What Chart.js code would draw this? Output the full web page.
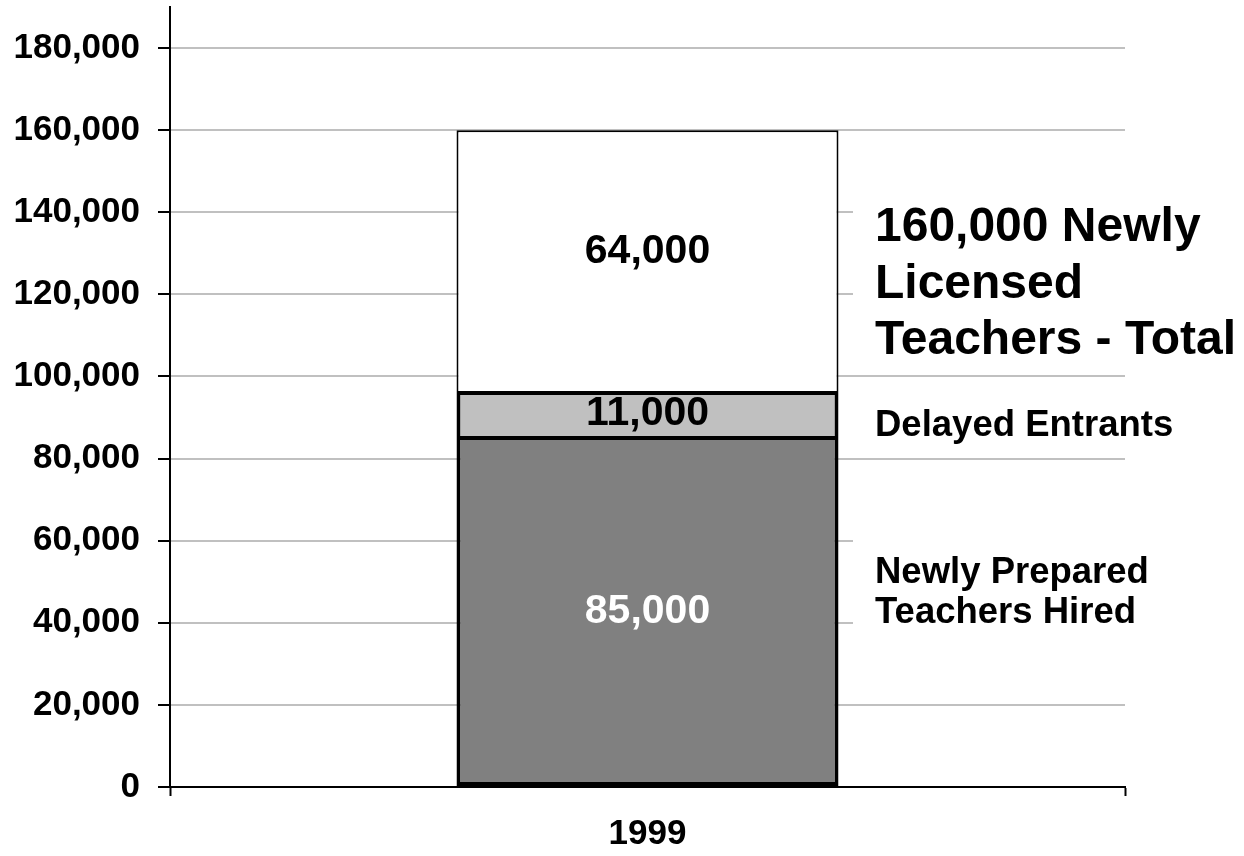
<!DOCTYPE html>
<html>
<head>
<meta charset="utf-8">
<script src="https://cdn.jsdelivr.net/npm/chart.js@4/dist/chart.umd.min.js"></script>
<style>
  html, body { margin: 0; padding: 0; background: #ffffff; }
  #wrap { width: 1244px; height: 856px; }
</style>
</head>
<body>
<div id="wrap"><canvas id="c" width="1244" height="856"></canvas></div>
<script>
// ---- data ----
const categories = ['1999'];
const newlyPreparedHired = [85000];
const delayedEntrants = [11000];
const otherLicensed = [64000];
const yTickValues = [0, 20000, 40000, 60000, 80000, 100000, 120000, 140000, 160000, 180000];
const yAxisMax = 190000;
const totalLabelLines = ['160,000 Newly', 'Licensed', 'Teachers - Total'];
const delayedLabelLines = ['Delayed Entrants'];
const preparedLabelLines = ['Newly Prepared', 'Teachers Hired'];

const FONT = '"Liberation Sans", Arial, sans-serif';

const segmentLabels = {
  id: 'segmentLabels',
  afterDatasetsDraw(chart) {
    const ctx = chart.ctx;
    ctx.save();
    ctx.textAlign = 'center';
    ctx.textBaseline = 'middle';
    ctx.font = 'bold 41px ' + FONT;
    chart.data.datasets.forEach((ds, di) => {
      const meta = chart.getDatasetMeta(di);
      meta.data.forEach((el, i) => {
        const v = ds.data[i];
        const cy = (el.y + el.base) / 2 + (ds.labelShift || 0);
        ctx.fillStyle = ds.labelColor;
        ctx.fillText(v.toLocaleString('en-US'), el.x, cy);
      });
    });
    ctx.restore();
  }
};

const sideLabels = {
  id: 'sideLabels',
  afterDatasetsDraw(chart) {
    const ctx = chart.ctx;
    const area = chart.chartArea;
    const x = 875;
    ctx.save();
    // white boxes hiding gridlines behind the text
    ctx.fillStyle = '#ffffff';
    ctx.fillRect(853, 192, area.right - 853 + 2, 132);
    ctx.fillRect(853, 530, area.right - 853 + 2, 106);
    ctx.fillStyle = '#000000';
    ctx.textAlign = 'left';
    ctx.textBaseline = 'middle';
    ctx.font = 'bold 48px ' + FONT;
    totalLabelLines.forEach((t, i) => ctx.fillText(t, x, 228 + i * 56.5));
    ctx.font = 'bold 36.5px ' + FONT;
    delayedLabelLines.forEach((t, i) => ctx.fillText(t, x, 426 + i * 40));
    preparedLabelLines.forEach((t, i) => ctx.fillText(t, x, 573 + i * 40));
    ctx.restore();
  }
};

new Chart(document.getElementById('c'), {
  type: 'bar',
  data: {
    labels: categories,
    datasets: [
      {
        label: 'Newly Prepared Teachers Hired',
        data: newlyPreparedHired,
        backgroundColor: '#808080',
        borderColor: '#000000',
        borderWidth: { left: 4, right: 4, bottom: 4, top: 2 },
        borderSkipped: false,
        labelColor: '#ffffff'
      },
      {
        label: 'Delayed Entrants',
        data: delayedEntrants,
        backgroundColor: '#c0c0c0',
        borderColor: '#000000',
        borderWidth: { left: 4, right: 4, bottom: 2, top: 2 },
        borderSkipped: false,
        labelColor: '#000000',
        labelShift: -2
      },
      {
        label: 'Other Newly Licensed',
        data: otherLicensed,
        backgroundColor: '#ffffff',
        borderColor: '#000000',
        borderWidth: { left: 2, right: 2, bottom: 2, top: 2 },
        borderSkipped: false,
        labelColor: '#000000',
        labelShift: -10
      }
    ]
  },
  options: {
    responsive: false,
    animation: false,
    devicePixelRatio: 1,
    layout: { padding: { left: 0, right: 119, top: 7, bottom: 0 } },
    plugins: {
      legend: { display: false },
      tooltip: { enabled: false },
      title: { display: false }
    },
    datasets: {
      bar: { categoryPercentage: 1.0, barPercentage: 0.4 }
    },
    scales: {
      x: {
        stacked: true,
        offset: true,
        afterFit(scale) { scale.height = 69; scale.paddingLeft = 0; scale.paddingRight = 0; },
        grid: {
          offset: true,
          drawOnChartArea: false,
          drawTicks: true,
          tickLength: 9,
          tickColor: '#000000',
          tickWidth: 2,
          color: '#000000'
        },
        border: { display: true, color: '#000000', width: 2 },
        ticks: {
          color: '#000000',
          font: { family: FONT, size: 35, weight: 'bold' },
          padding: 17
        }
      },
      y: {
        stacked: true,
        min: 0,
        max: yAxisMax,
        afterFit(scale) { scale.width = 170; scale.paddingTop = 0; scale.paddingBottom = 0; },
        afterBuildTicks(scale) { scale.ticks = yTickValues.map(v => ({ value: v })); },
        grid: {
          color: '#c0c0c0',
          lineWidth: 2,
          drawTicks: true,
          tickLength: 12,
          tickColor: '#000000',
          tickWidth: 2
        },
        border: { display: true, color: '#000000', width: 2 },
        ticks: {
          color: '#000000',
          font: { family: FONT, size: 35, weight: 'bold' },
          padding: 18,
          includeBounds: false,
          callback: (v) => Number(v).toLocaleString('en-US')
        }
      }
    }
  },
  plugins: [segmentLabels, sideLabels]
});
</script>
</body>
</html>
